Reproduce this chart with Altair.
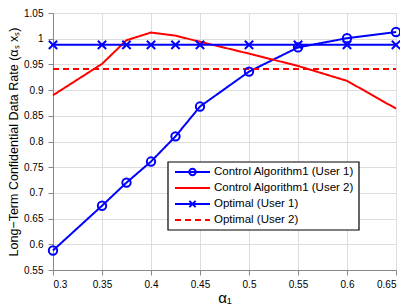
import altair as alt
import pandas as pd

alpha = [0.3, 0.35, 0.375, 0.4, 0.425, 0.45, 0.5, 0.55, 0.6, 0.65]
ctrl_u1 = [0.588, 0.675, 0.720, 0.761, 0.810, 0.868, 0.936, 0.983, 1.001, 1.013]
ctrl_u2 = [0.890, 0.951, 0.997, 1.012, 1.006, 0.994, 0.971, 0.947, 0.918, 0.864]
opt_u1 = [0.988, 0.988, 0.988, 0.988, 0.988, 0.988, 0.988, 0.988, 0.988, 0.988]
opt_u2 = [0.941, 0.941, 0.941, 0.941, 0.941, 0.941, 0.941, 0.941, 0.941, 0.941]

series_names = ["Control Algorithm1 (User 1)", "Control Algorithm1 (User 2)",
                "Optimal (User 1)", "Optimal (User 2)"]
series_colors = ["#0000ff", "#ff0000", "#0000ff", "#ff0000"]
series_dash = [[1, 0], [1, 0], [1, 0], [6, 4]]
x_ticks = [0.3, 0.35, 0.4, 0.45, 0.5, 0.55, 0.6, 0.65]

rows = []
for name, vals in zip(series_names, [ctrl_u1, ctrl_u2, opt_u1, opt_u2]):
    for a, v in zip(alpha, vals):
        rows.append({"alpha": a, "rate": v, "series": name})
df = pd.DataFrame(rows)

FONT = "Liberation Sans"
X_CROSS = "M-1,-1L1,1M-1,1L1,-1"

x_enc = alt.X("alpha:Q", scale=alt.Scale(domain=[0.3, 0.65], nice=False),
              axis=alt.Axis(values=x_ticks, format=".2~f", title="α₁",
                            titleFontSize=15, titleFontWeight="normal",
                            titlePadding=1, labelPadding=4, labelOverlap=False))
y_enc = alt.Y("rate:Q", scale=alt.Scale(domain=[0.55, 1.05], nice=False, zero=False),
              axis=alt.Axis(tickCount=11, format=".2~f",
                            title="Long−Term Confidential Data Rate (αₛ xₛ)",
                            titleFontSize=12.5, titleFontWeight="normal",
                            titlePadding=3, labelPadding=5, labelOverlap=False,
                            labelSeparation=0))
color_enc = alt.Color("series:N", scale=alt.Scale(domain=series_names, range=series_colors), legend=None)
dash_enc = alt.StrokeDash("series:N", scale=alt.Scale(domain=series_names, range=series_dash), legend=None)

base = alt.Chart(df)
lines = base.mark_line(strokeWidth=2).encode(x=x_enc, y=y_enc, color=color_enc, strokeDash=dash_enc)
circles = base.transform_filter(alt.datum.series == series_names[0]).mark_point(
    shape="circle", filled=False, size=70, strokeWidth=2, color="#0000ff", opacity=1
).encode(x="alpha:Q", y="rate:Q")
crosses = base.transform_filter(alt.datum.series == series_names[2]).mark_point(
    shape=X_CROSS, filled=False, size=70, strokeWidth=2, color="#0000ff", opacity=1
).encode(x="alpha:Q", y="rate:Q")

# legend (manual, inside plot)
one = pd.DataFrame({"k": [0]})
leg_layers = []
leg_layers.append(alt.Chart(one).mark_rect(fill="white", stroke="black", strokeWidth=1.2).encode(
    x=alt.value(115), x2=alt.value(306), y=alt.value(149), y2=alt.value(217)))
row_y0, row_dy = 159, 16
for i, name in enumerate(series_names):
    yy = row_y0 + i * row_dy
    leg_layers.append(alt.Chart(one).mark_rule(strokeWidth=2, color=series_colors[i],
                                               strokeDash=series_dash[i]).encode(
        x=alt.value(122), x2=alt.value(157), y=alt.value(yy)))
    if i == 0:
        leg_layers.append(alt.Chart(one).mark_point(shape="circle", filled=False, size=40,
                                                    strokeWidth=2, color="#0000ff", opacity=1).encode(
            x=alt.value(139.5), y=alt.value(yy)))
    if i == 2:
        leg_layers.append(alt.Chart(one).mark_point(shape=X_CROSS, filled=False, size=40,
                                                    strokeWidth=2, color="#0000ff", opacity=1).encode(
            x=alt.value(139.5), y=alt.value(yy)))
    leg_layers.append(alt.Chart(one).mark_text(text=name, align="left", baseline="middle",
                                               font=FONT, fontSize=11.5, color="black").encode(
        x=alt.value(161), y=alt.value(yy)))

chart = alt.layer(lines, circles, crosses, *leg_layers).properties(
    width=343, height=257,
    autosize=alt.AutoSizeParams(type="none"),
    padding={"left": 45, "top": 5, "right": 4, "bottom": 37},
).configure_view(stroke="black", strokeWidth=1.2).configure_axis(
    labelFont=FONT, titleFont=FONT, labelFontSize=11, labelColor="black", titleColor="black",
    domain=False, ticks=False, grid=True, gridColor="#000000", gridOpacity=0.55,
    gridDash=[1, 3], gridWidth=1
).configure(background="white")

chart.save("out.html", embed_options={"renderer": "svg", "actions": False})
